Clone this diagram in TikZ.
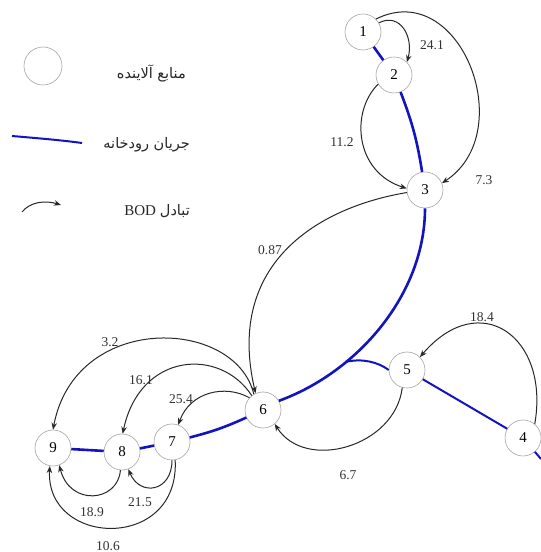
\documentclass[tikz,border=0pt]{standalone}
\usepackage{fontspec}
\setmainfont{Liberation Serif}
\newfontfamily\arabicfont[Script=Arabic]{DejaVu Sans}
\newfontfamily\latinserif{Liberation Serif}
\TeXXeTstate=1
\usetikzlibrary{arrows.meta}
\definecolor{river}{RGB}{20,20,190}
\definecolor{arr}{RGB}{40,40,40}
\begin{document}
\begin{tikzpicture}[x=1pt,y=1pt,
  src/.style={circle,draw=black!35,line width=0.6pt,fill=white,minimum size=36pt,inner sep=0pt,font=\fontsize{15}{15}\selectfont},
  flow/.style={draw=river,line width=2.6pt},
  branch/.style={draw=river,line width=2pt},
  bod/.style={draw=arr,line width=1pt,-{Stealth[length=7pt,width=5.5pt]}},
  lbl/.style={font=\fontsize{13.5}{14}\selectfont,text=black!80,inner sep=0pt},
  leg/.style={font=\arabicfont\fontsize{14.5}{16}\selectfont,anchor=east,inner sep=0pt,text=black!85}]
\fill[white] (0,0) rectangle (541,552);
\useasboundingbox (0,0) rectangle (541,552);

% nodes
\node[src] (n1) at (363,520) {1};
\node[src] (n2) at (394,477) {2};
\node[src] (n3) at (425,362) {3};
\node[src] (n4) at (523,114) {4};
\node[src] (n5) at (407,182) {5};
\node[src] (n6) at (263,142) {6};
\node[src] (n7) at (172,110) {7};
\node[src] (n8) at (122,100) {8};
\node[src] (n9) at (53,104) {9};
\coordinate (jn) at (345.3,190);
\coordinate (out4) at (541,93);

% river
\draw[flow] (n1) -- (n2);
\draw[flow] (n2) to[bend left=6] (n3);
\draw[flow] (n3.south) .. controls (425,258) and (358,180) .. (n6.30);
\draw[branch] (jn) .. controls (362,194) and (378,190) .. (n5.west);
\draw[branch] (n5) -- (n4);
\draw[branch] (n4) -- (out4);
\draw[flow] (n6) to[bend left=5] (n7);
\draw[flow] (n7) -- (n8);
\draw[flow] (n8) -- (n9);

% BOD exchange
\draw[bod] (n1.30) .. controls (400,540) and (414,515) .. (n2.45);
\draw[bod] (n1.45) .. controls (460,575) and (520,420) .. (n3.22);
\draw[bod] (n2.210) .. controls (350,440) and (355,380) .. (n3.175);
\draw[bod] (n3.188) .. controls (320,345) and (225,290) .. (n6.114);
\draw[bod] (n6.120) .. controls (235,235) and (75,240) .. (n9.90);
\draw[bod] (n6.128) .. controls (220,205) and (140,200) .. (n8.88);
\draw[bod] (n6.138) .. controls (225,168) and (190,160) .. (n7.70);
\draw[bod] (n5.255) .. controls (395,105) and (305,80) .. (n6.-50);
\draw[bod] (n4.50) .. controls (550,215) and (480,265) .. (n5.45);
\draw[bod] (n8.265) .. controls (118,50) and (70,45) .. (n9.290);
\draw[bod] (n7.270) .. controls (172,60) and (140,55) .. (n8.-70);
\draw[bod] (n7.280) .. controls (180,0) and (45,5) .. (n9.260);

% labels
\node[lbl] (l1) at (432,507) {24.1};
\node[lbl] (l2) at (484,372) {7.3};
\node[lbl] (l3) at (342,410) {11.2};
\node[lbl] (l4) at (270,302) {0.87};
\node[lbl] (l5) at (110,210) {3.2};
\node[lbl] (l6) at (141,172) {16.1};
\node[lbl] (l7) at (181,153) {25.4};
\node[lbl] (l8) at (482,235) {18.4};
\node[lbl] (l9) at (348,77) {6.7};
\node[lbl] (l10) at (92,40) {18.9};
\node[lbl] (l11) at (140,50) {21.5};
\node[lbl] (l12) at (108,6) {10.6};

% legend
\node[src,minimum size=38pt] (lgc) at (43,486) {};
\node[leg] (lgt1) at (186,479) {\beginR منابع آلاینده\endR};
\coordinate (lga) at (12,416);
\coordinate (lgb) at (82,409);
\draw[branch] (lga) .. controls (35,414) and (60,412) .. (lgb);
\node[leg] (lgt2) at (190,407) {\beginR جریان رودخانه\endR};
\coordinate (lgc1) at (22,340);
\coordinate (lgc2) at (61,347);
\draw[bod] (lgc1) .. controls (30,350) and (45,352) .. (lgc2);
\node[leg,font=\latinserif\fontsize{15}{16}\selectfont] (lgt3) at (190,341) {BOD\hspace{4pt}{\arabicfont\fontsize{14.5}{16}\selectfont\beginR تبادل\endR}};
\end{tikzpicture}
\end{document}
